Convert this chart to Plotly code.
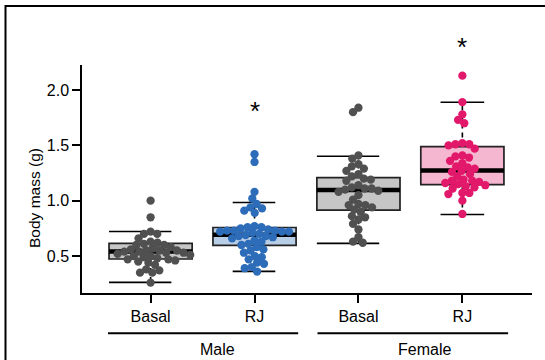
import numpy as np
import plotly.graph_objects as go

# ---------------- data ----------------
categories = ["Basal", "RJ", "Basal", "RJ"]
group_names = ["Male", "Female"]

male_basal = [1.00, 0.85, 0.72, 0.70, 0.70, 0.66, 0.63, 0.62, 0.61, 0.60, 0.60, 0.58,
              0.57, 0.56, 0.55, 0.55, 0.55, 0.54, 0.54, 0.53, 0.53, 0.52, 0.51, 0.50,
              0.50, 0.49, 0.48, 0.47, 0.47, 0.46, 0.45, 0.44, 0.42, 0.38, 0.37, 0.35,
              0.35, 0.26]
male_rj = [1.42, 1.35, 1.08, 1.02, 0.97, 0.94, 0.93, 0.91, 0.89, 0.77, 0.76, 0.76,
           0.75, 0.74, 0.73, 0.73, 0.73, 0.72, 0.72, 0.72, 0.71, 0.70, 0.69, 0.68,
           0.68, 0.67, 0.66, 0.64, 0.63, 0.61, 0.60, 0.58, 0.56, 0.55, 0.53, 0.50,
           0.49, 0.47, 0.44, 0.43, 0.40, 0.39, 0.36]
female_basal = [1.84, 1.80, 1.41, 1.38, 1.33, 1.31, 1.29, 1.27, 1.24, 1.22, 1.20, 1.19,
                1.18, 1.14, 1.12, 1.11, 1.11, 1.10, 1.09, 1.08, 1.05, 1.01, 0.97, 0.96,
                0.96, 0.94, 0.92, 0.90, 0.86, 0.85, 0.83, 0.79, 0.74, 0.67, 0.63, 0.62]
female_rj = [2.13, 1.89, 1.78, 1.73, 1.70, 1.52, 1.51, 1.51, 1.50, 1.47, 1.41, 1.40,
             1.39, 1.36, 1.34, 1.31, 1.30, 1.29, 1.27, 1.26, 1.24, 1.22, 1.19, 1.18,
             1.18, 1.17, 1.16, 1.15, 1.14, 1.13, 1.12, 1.11, 1.07, 1.07, 1.06, 1.00, 0.88]

q1 = [0.473, 0.596, 0.914, 1.146]
median = [0.542, 0.692, 1.096, 1.273]
q3 = [0.614, 0.758, 1.209, 1.489]
whisker_low = [0.262, 0.361, 0.614, 0.875]
whisker_high = [0.722, 0.984, 1.402, 1.889]
significance = ["", "*", "", "*"]
y_ticks = [0.5, 1.0, 1.5, 2.0]

# ---------------- style ----------------
FONT = "Liberation Sans, Arial, Helvetica, sans-serif"
dot_colors = ["#505050", "#2c6cb8", "#505050", "#e2186a"]
box_fills = ["#c6c6c6", "#b8cde6", "#c6c6c6", "#f5b6cf"]
cap_left = [-0.40, -0.21, -0.40, -0.21]
cap_right = [0.20, 0.20, 0.20, 0.21]
star_y = [None, 1.86, None, 2.43]
BOX_W = 0.8
X_RANGE = [-0.66, 3.67]
Y_RANGE = [0.166, 2.226]
ML, MR, MT, MB = 82, 13, 65, 67
W, H = 545, 360
PW, PH = W - ML - MR, H - MT - MB
PX_X = PW / (X_RANGE[1] - X_RANGE[0])
PX_Y = PH / (Y_RANGE[1] - Y_RANGE[0])
D = 7.0


def swarm(vals):
    vals = np.asarray(vals, dtype=float)
    order = np.argsort(-vals, kind="stable")
    placed = []
    offs = np.zeros(len(vals))
    for i in order:
        y = vals[i] * PX_Y
        cands = [0.0]
        for xp, yp in placed:
            dy = y - yp
            if abs(dy) < D:
                dx = np.sqrt(D * D - dy * dy)
                cands += [xp + dx, xp - dx]
        cands.sort(key=lambda c: (abs(c), c))
        for c in cands:
            if all((c - xp) ** 2 + (y - yp) ** 2 >= D * D - 1e-6 for xp, yp in placed):
                offs[i] = c
                placed.append((c, y))
                break
    return offs / PX_X


def ypaper(v):
    return (v - Y_RANGE[0]) / (Y_RANGE[1] - Y_RANGE[0])


def ypix(py):
    return (PH + MT - py) / PH


series = [male_basal, male_rj, female_basal, female_rj]

fig = go.Figure()

for i in range(4):
    fig.add_trace(go.Box(
        x=[i], q1=[q1[i]], median=[median[i]], q3=[q3[i]],
        lowerfence=[q1[i]], upperfence=[q3[i]],
        width=BOX_W, fillcolor=box_fills[i],
        line=dict(color="#222222", width=1.7), boxpoints=False,
        showlegend=False, hoverinfo="skip"))

for i in range(4):
    fig.add_trace(go.Scatter(x=[i, i], y=[q3[i], whisker_high[i]], mode="lines",
                             line=dict(color="black", width=1.6, dash="5px,4px"),
                             showlegend=False, hoverinfo="skip"))
    fig.add_trace(go.Scatter(x=[i, i], y=[q1[i], whisker_low[i]], mode="lines",
                             line=dict(color="black", width=1.6, dash="5px,4px"),
                             showlegend=False, hoverinfo="skip"))
    for v in (whisker_high[i], whisker_low[i]):
        fig.add_trace(go.Scatter(x=[i + cap_left[i], i + cap_right[i]], y=[v, v], mode="lines",
                                 line=dict(color="black", width=1.6),
                                 showlegend=False, hoverinfo="skip"))
    fig.add_trace(go.Scatter(x=[i - BOX_W / 2, i + BOX_W / 2], y=[median[i], median[i]],
                             mode="lines", line=dict(color="black", width=4.5),
                             showlegend=False, hoverinfo="skip"))

for i, vals in enumerate(series):
    offs = swarm(vals)
    fig.add_trace(go.Scatter(x=i + offs, y=vals, mode="markers",
                             marker=dict(size=8.3, color=dot_colors[i], line=dict(width=0)),
                             showlegend=False))

annotations = []
for i, s in enumerate(significance):
    if s:
        annotations.append(dict(x=i, y=ypaper(star_y[i]), xref="x", yref="paper", text=s,
                                showarrow=False,
                                font=dict(size=26, color="black", family=FONT),
                                xanchor="center", yanchor="middle", yshift=-5))

annotations.append(dict(x=(35 - ML) / PW, y=ypix(198), xref="paper", yref="paper",
                        text="Body mass (g)", textangle=-90, showarrow=False,
                        font=dict(size=15.5, color="black", family=FONT),
                        xanchor="center", yanchor="middle"))

group_label_x = [0.639, 2.633]
for g, gx in zip(group_names, group_label_x):
    annotations.append(dict(x=gx, y=ypix(349), xref="x", yref="paper", text=g,
                            showarrow=False, font=dict(size=16, color="black", family=FONT),
                            xanchor="center", yanchor="middle"))

shapes = []
group_spans = [(-0.41, 1.42), (1.606, 3.44)]
for x0, x1 in group_spans:
    shapes.append(dict(type="line", xref="x", yref="paper", x0=x0, x1=x1,
                       y0=ypix(333.3), y1=ypix(333.3),
                       line=dict(color="black", width=2)))

fx = (5.5 - ML) / PW
fy = ypix(6)
shapes.append(dict(type="path", xref="paper", yref="paper",
                   path=f"M {fx},-1 L {fx},{fy} L 1.5,{fy}",
                   line=dict(color="black", width=2)))

fig.update_layout(
    width=W, height=H,
    margin=dict(l=ML, r=MR, t=MT, b=MB),
    paper_bgcolor="white", plot_bgcolor="white",
    font=dict(family=FONT, size=16, color="black"),
    annotations=annotations, shapes=shapes,
    xaxis=dict(range=X_RANGE, tickvals=[0, 1, 2, 3], ticktext=categories,
               showline=True, linecolor="black", linewidth=1.5, ticks="outside",
               ticklen=8, tickwidth=1.5, tickcolor="black", showgrid=False, zeroline=False,
               tickfont=dict(size=16, family=FONT, color="black")),
    yaxis=dict(range=Y_RANGE, tickvals=y_ticks, tickformat=".1f",
               showline=True, linecolor="black", linewidth=1.5, ticks="outside",
               ticklen=8, tickwidth=1.5, tickcolor="black", showgrid=False, zeroline=False,
               tickfont=dict(size=16, family=FONT, color="black")),
)

fig.write_html("out.html", config={"displayModeBar": False},
               post_script="document.body.style.margin='0px';")
